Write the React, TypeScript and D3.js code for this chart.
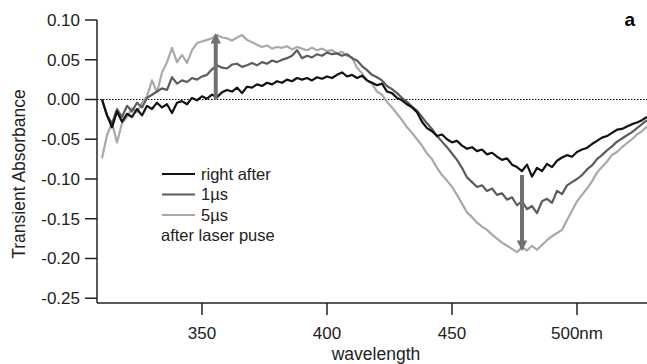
import React from 'react';
import * as d3 from 'd3';

// sampling grid of the spectra, nm (310 ... 528, every 2 nm)
const wavelengths: number[] = d3.range(310, 529, 2);

// transient absorbance, one value per grid point
const rightAfter: number[] = [
  0.000, -0.020, -0.035, -0.015, -0.028, -0.018, -0.022, -0.012, -0.020, -0.008,
  -0.012, -0.004, -0.010, -0.006, -0.017, -0.004, -0.002, -0.006, 0.002, -0.001,
  0.004, 0.001, 0.006, 0.003, 0.009, 0.012, 0.010, 0.015, 0.008, 0.016,
  0.015, 0.019, 0.017, 0.021, 0.019, 0.023, 0.021, 0.025, 0.023, 0.027,
  0.025, 0.027, 0.024, 0.028, 0.026, 0.029, 0.027, 0.031, 0.034, 0.029,
  0.031, 0.027, 0.030, 0.024, 0.021, 0.018, 0.020, 0.010, 0.008, 0.002,
  -0.001, -0.006, -0.010, -0.016, -0.028, -0.036, -0.040, -0.046, -0.044, -0.050,
  -0.054, -0.052, -0.058, -0.062, -0.060, -0.065, -0.063, -0.069, -0.067, -0.072,
  -0.076, -0.074, -0.082, -0.085, -0.090, -0.082, -0.097, -0.086, -0.090, -0.081,
  -0.085, -0.077, -0.073, -0.070, -0.072, -0.066, -0.063, -0.061, -0.056, -0.052,
  -0.048, -0.046, -0.042, -0.038, -0.037, -0.034, -0.031, -0.029, -0.026, -0.022,
];

const oneMicro: number[] = [
  0.000, -0.020, -0.030, -0.012, -0.022, -0.008, -0.015, -0.004, -0.010, 0.002,
  0.006, 0.010, 0.014, 0.012, 0.028, 0.020, 0.024, 0.022, 0.027, 0.025,
  0.029, 0.031, 0.038, 0.043, 0.040, 0.039, 0.044, 0.045, 0.041, 0.043,
  0.046, 0.043, 0.047, 0.045, 0.049, 0.047, 0.050, 0.052, 0.055, 0.062,
  0.052, 0.055, 0.053, 0.057, 0.055, 0.059, 0.057, 0.058, 0.055, 0.057,
  0.052, 0.049, 0.042, 0.037, 0.031, 0.028, 0.024, 0.017, 0.013, 0.008,
  0.002, -0.003, -0.009, -0.014, -0.022, -0.030, -0.037, -0.046, -0.053, -0.060,
  -0.068, -0.076, -0.086, -0.098, -0.104, -0.110, -0.108, -0.115, -0.112, -0.120,
  -0.118, -0.126, -0.123, -0.133, -0.128, -0.138, -0.134, -0.143, -0.128, -0.125,
  -0.130, -0.115, -0.119, -0.108, -0.104, -0.100, -0.095, -0.088, -0.083, -0.075,
  -0.070, -0.064, -0.059, -0.053, -0.049, -0.045, -0.041, -0.036, -0.031, -0.026,
];

const fiveMicro: number[] = [
  -0.074, -0.045, -0.029, -0.054, -0.030, -0.022, -0.011, -0.016, -0.004, 0.004,
  0.024, 0.009, 0.034, 0.047, 0.065, 0.047, 0.056, 0.046, 0.062, 0.071,
  0.073, 0.075, 0.077, 0.081, 0.078, 0.077, 0.074, 0.078, 0.081, 0.075,
  0.072, 0.069, 0.066, 0.068, 0.064, 0.066, 0.065, 0.067, 0.063, 0.066,
  0.064, 0.062, 0.065, 0.062, 0.064, 0.061, 0.062, 0.058, 0.060, 0.055,
  0.053, 0.040, 0.033, 0.024, 0.020, 0.010, 0.006, -0.003, -0.010, -0.018,
  -0.026, -0.035, -0.042, -0.050, -0.058, -0.068, -0.075, -0.086, -0.095, -0.102,
  -0.110, -0.120, -0.131, -0.142, -0.148, -0.155, -0.160, -0.164, -0.170, -0.175,
  -0.180, -0.184, -0.188, -0.192, -0.186, -0.190, -0.184, -0.189, -0.183, -0.177,
  -0.172, -0.168, -0.164, -0.152, -0.140, -0.128, -0.120, -0.112, -0.103, -0.092,
  -0.085, -0.078, -0.070, -0.066, -0.060, -0.055, -0.050, -0.044, -0.040, -0.034,
];

const seriesNames = ['right after', '1\u00b5s', '5\u00b5s'];
const seriesColors = ['#111111', '#5c5c5c', '#a9a9a9'];

// growth arrows: wavelength, start value, end value
const arrowWavelengths = [355.5, 478];
const arrowFrom = [0.0, -0.095];
const arrowTo = [0.081, -0.188];

const yTicks = [0.1, 0.05, 0, -0.05, -0.1, -0.15, -0.2, -0.25];
const yTickLabels = ['0.10', '0.05', '0.00', '-0.05', '-0.10', '-0.15', '-0.20', '-0.25'];
const xTicks = [350, 400, 450, 500];
const xTickLabels = ['350', '400', '450', '500nm'];

const W = 647;
const H = 364;
const font = '"Liberation Sans", Arial, Helvetica, sans-serif';

const App: React.FC = () => {
  const left = 97, right = 647, top = 20, bottom = 303;

  const x = d3.scaleLinear().domain([308, 528]).range([left, right]);
  const y = d3.scaleLinear().domain([-0.256, 0.1]).range([bottom, top]);

  const line = d3.line<number>()
    .x((_, i) => x(wavelengths[i]))
    .y(d => y(d));

  const series = [rightAfter, oneMicro, fiveMicro];
  const drawOrder = [2, 1, 0];

  return (
    <svg width={W} height={H} style={{ position: 'absolute', left: 0, top: 0, background: '#fff' }}
      fontFamily={font}>
      <defs>
        <marker id="head" viewBox="0 0 10 10" refX="8" refY="5" markerWidth="3.2" markerHeight="2.6"
          orient="auto" markerUnits="strokeWidth">
          <path d="M0,0 L10,5 L0,10 z" fill="#707070" />
        </marker>
      </defs>

      {/* zero line */}
      <line x1={left} x2={right} y1={y(0)} y2={y(0)} stroke="#000" strokeWidth={1}
        strokeDasharray="1.5,1.5" />

      {drawOrder.map(i => (
        <path key={i} d={line(series[i]) || ''} fill="none" stroke={seriesColors[i]}
          strokeWidth={2.2} strokeLinejoin="round" />
      ))}

      {arrowWavelengths.map((w, i) => (
        <line key={i} x1={x(w)} x2={x(w)} y1={y(arrowFrom[i])} y2={y(arrowTo[i])}
          stroke="#707070" strokeWidth={4} markerEnd="url(#head)" />
      ))}

      {/* axes */}
      <line x1={left} x2={left} y1={top} y2={bottom} stroke="#222" strokeWidth={1.5} />
      <line x1={left} x2={right} y1={bottom} y2={bottom} stroke="#222" strokeWidth={1.5} />
      {yTicks.map((t, i) => (
        <g key={t}>
          <line x1={left - 12} x2={left} y1={y(t)} y2={y(t)} stroke="#222" strokeWidth={1.5} />
          <text x={left - 17} y={y(t)} dy="0.35em" textAnchor="end" fontSize={17} fill="#222">
            {yTickLabels[i]}
          </text>
        </g>
      ))}
      {xTicks.map((t, i) => (
        <g key={t}>
          <line x1={x(t)} x2={x(t)} y1={bottom} y2={bottom + 12} stroke="#222" strokeWidth={1.5} />
          <text x={x(t)} y={339} textAnchor="middle" fontSize={17} fill="#222">
            {xTickLabels[i]}
          </text>
        </g>
      ))}

      <text x={376} y={360} textAnchor="middle" fontSize={17.5} fill="#222">wavelength</text>
      <text transform="translate(25,174) rotate(-90)" textAnchor="middle" fontSize={17.5} fill="#222">
        Transient Absorbance
      </text>
      <text x={635} y={26} textAnchor="end" fontSize={19} fontWeight="bold" fill="#000">a</text>

      {/* legend */}
      {seriesNames.map((name, i) => (
        <g key={name} transform={`translate(162,${174 + i * 20.5})`}>
          <line x1={0} x2={33} y1={0} y2={0} stroke={seriesColors[i]} strokeWidth={2} />
          <text x={39} y={0} dy="0.35em" fontSize={16.5} fill="#222">{name}</text>
        </g>
      ))}
      <text x={161} y={235} dy="0.35em" fontSize={16.5} fill="#222">after laser puse</text>
    </svg>
  );
};

export default App;
